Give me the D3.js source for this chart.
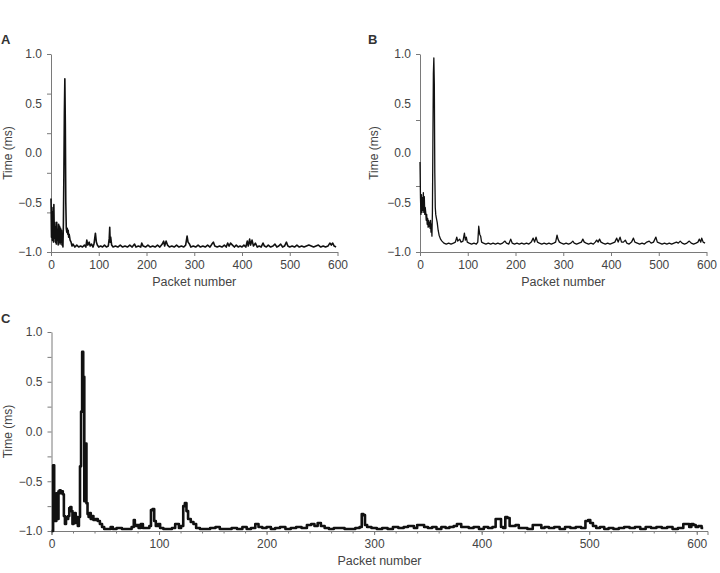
<!DOCTYPE html>
<html>
<head>
<meta charset="utf-8">
<script src="https://cdn.jsdelivr.net/npm/d3@7"></script>
<style>
  body { margin: 0; background: #fff; }
  svg { display: block; font-family: "Liberation Sans", Arial, sans-serif; }
</style>
</head>
<body>
<svg id="chart" width="720" height="573"></svg>
<script>
// [packet number, time (ms)]
const seriesA = [
  [0,-0.46],[1,-0.85],[2,-0.55],[3,-0.88],[4,-0.6],[5,-0.9],[6,-0.52],[7,-0.86],[8,-0.7],[9,-0.9],
  [10,-0.75],[11,-0.92],[12,-0.7],[13,-0.88],[14,-0.8],[15,-0.93],[16,-0.72],[17,-0.9],[18,-0.74],[19,-0.92],
  [20,-0.76],[21,-0.9],[22,-0.78],[23,-0.93],[24,-0.82],[25,-0.95],[26,-0.7],[27,-0.2],[28,0.4],[29,0.75],
  [30,0.3],[31,-0.5],[32,-0.76],[33,-0.8],[34,-0.76],[35,-0.82],[36,-0.78],[37,-0.85],[38,-0.82],[40,-0.88],
  [42,-0.9],[44,-0.94],[46,-0.92],[50,-0.95],[54,-0.93],[58,-0.95],[62,-0.94],[66,-0.95],[70,-0.93],[73,-0.95],
  [75,-0.88],[77,-0.93],[80,-0.9],[82,-0.94],[85,-0.92],[88,-0.95],[90,-0.92],[93,-0.81],[95,-0.9],[97,-0.93],
  [100,-0.95],[104,-0.94],[108,-0.95],[112,-0.93],[116,-0.95],[120,-0.94],[122,-0.86],[123,-0.75],[124,-0.9],[125,-0.85],
  [127,-0.93],[130,-0.95],[135,-0.94],[140,-0.95],[145,-0.93],[150,-0.95],[155,-0.94],[160,-0.95],[165,-0.93],[170,-0.95],
  [175,-0.92],[178,-0.95],[183,-0.94],[188,-0.95],[190,-0.91],[193,-0.94],[198,-0.95],[203,-0.93],[208,-0.95],[213,-0.94],
  [218,-0.95],[223,-0.93],[228,-0.95],[233,-0.92],[236,-0.89],[238,-0.94],[241,-0.89],[244,-0.93],[248,-0.95],[253,-0.94],
  [258,-0.95],[263,-0.93],[268,-0.95],[273,-0.94],[278,-0.95],[282,-0.93],[285,-0.84],[287,-0.9],[290,-0.92],[293,-0.95],
  [298,-0.94],[303,-0.95],[308,-0.93],[313,-0.95],[318,-0.94],[323,-0.95],[328,-0.93],[333,-0.95],[337,-0.92],[340,-0.9],
  [343,-0.94],[348,-0.95],[353,-0.94],[358,-0.95],[363,-0.93],[367,-0.95],[370,-0.91],[373,-0.94],[376,-0.91],[380,-0.93],
  [384,-0.95],[388,-0.93],[392,-0.95],[396,-0.94],[400,-0.95],[404,-0.93],[408,-0.95],[411,-0.89],[413,-0.94],[416,-0.87],
  [418,-0.93],[421,-0.88],[424,-0.94],[428,-0.91],[432,-0.95],[436,-0.94],[440,-0.95],[444,-0.91],[447,-0.94],[451,-0.95],
  [455,-0.93],[460,-0.95],[465,-0.94],[469,-0.92],[473,-0.95],[477,-0.94],[481,-0.92],[485,-0.95],[489,-0.94],[493,-0.9],
  [496,-0.94],[500,-0.95],[505,-0.94],[510,-0.95],[515,-0.93],[520,-0.95],[525,-0.94],[530,-0.95],[535,-0.94],[540,-0.93],
  [545,-0.94],[550,-0.95],[555,-0.94],[560,-0.93],[565,-0.95],[570,-0.94],[575,-0.95],[580,-0.94],[584,-0.91],[587,-0.93],
  [590,-0.91],[593,-0.94],[597,-0.95]
];

const seriesB = [
  [0,-0.09],[1,-0.45],[2,-0.62],[3,-0.42],[4,-0.6],[5,-0.45],[6,-0.58],[7,-0.4],[8,-0.6],[9,-0.44],
  [10,-0.62],[11,-0.55],[12,-0.6],[13,-0.68],[14,-0.62],[15,-0.72],[16,-0.66],[17,-0.75],[18,-0.68],[19,-0.74],
  [20,-0.7],[21,-0.76],[22,-0.68],[23,-0.8],[24,-0.72],[25,-0.84],[26,-0.6],[27,0.1],[28,0.8],[29,0.96],
  [30,0.7],[31,-0.2],[32,-0.55],[33,-0.62],[34,-0.65],[36,-0.7],[38,-0.78],[40,-0.83],[43,-0.87],[46,-0.89],
  [50,-0.91],[55,-0.92],[60,-0.91],[65,-0.92],[70,-0.91],[74,-0.9],[77,-0.85],[79,-0.89],[83,-0.87],[86,-0.9],
  [90,-0.89],[93,-0.81],[95,-0.88],[97,-0.85],[99,-0.9],[103,-0.91],[108,-0.92],[113,-0.91],[118,-0.92],[121,-0.9],
  [123,-0.74],[125,-0.82],[127,-0.84],[129,-0.9],[133,-0.91],[138,-0.92],[143,-0.91],[148,-0.92],[153,-0.91],[158,-0.92],
  [163,-0.91],[168,-0.92],[173,-0.91],[178,-0.89],[181,-0.91],[186,-0.92],[190,-0.87],[193,-0.91],[198,-0.92],[203,-0.91],
  [208,-0.92],[213,-0.91],[218,-0.92],[223,-0.91],[228,-0.92],[233,-0.9],[237,-0.86],[240,-0.9],[243,-0.85],[246,-0.9],
  [250,-0.91],[255,-0.92],[260,-0.91],[265,-0.92],[270,-0.91],[275,-0.92],[280,-0.91],[284,-0.9],[287,-0.83],[289,-0.87],
  [292,-0.9],[296,-0.91],[301,-0.92],[306,-0.91],[311,-0.92],[316,-0.91],[320,-0.89],[323,-0.91],[328,-0.92],[333,-0.91],
  [338,-0.9],[341,-0.87],[344,-0.9],[348,-0.91],[353,-0.92],[358,-0.91],[363,-0.92],[367,-0.9],[370,-0.88],[373,-0.9],
  [376,-0.87],[379,-0.9],[383,-0.91],[388,-0.92],[393,-0.91],[398,-0.92],[403,-0.91],[408,-0.9],[412,-0.86],[415,-0.9],
  [419,-0.85],[422,-0.9],[426,-0.9],[430,-0.88],[433,-0.91],[438,-0.92],[443,-0.9],[447,-0.86],[450,-0.9],[455,-0.91],
  [460,-0.92],[465,-0.91],[470,-0.92],[475,-0.9],[480,-0.89],[484,-0.91],[489,-0.9],[494,-0.85],[497,-0.9],[502,-0.91],
  [507,-0.92],[512,-0.91],[517,-0.92],[522,-0.91],[527,-0.92],[532,-0.91],[537,-0.9],[541,-0.91],[545,-0.89],[549,-0.91],
  [554,-0.92],[559,-0.91],[564,-0.89],[568,-0.91],[573,-0.92],[578,-0.91],[582,-0.9],[585,-0.87],[588,-0.9],[590,-0.86],
  [593,-0.9],[597,-0.91]
];

const seriesC = [
  [0,-1.0],[1,-1.0],[2,-0.34],[3,-0.75],[4,-0.9],[5,-0.62],[6,-0.88],[7,-0.6],[8,-0.59],[9,-0.62],
  [10,-0.6],[11,-0.63],[12,-0.85],[13,-0.93],[14,-0.86],[15,-0.88],[16,-0.85],[17,-0.77],[18,-0.76],[19,-0.8],
  [20,-0.93],[21,-0.84],[22,-0.82],[23,-0.92],[24,-0.86],[25,-0.95],[26,-0.86],[27,-0.35],[28,0.2],[29,0.8],
  [30,0.55],[31,-0.7],[32,-0.12],[33,-0.72],[34,-0.83],[35,-0.86],[36,-0.82],[37,-0.88],[38,-0.85],[40,-0.89],
  [42,-0.88],[44,-0.9],[46,-0.93],[48,-0.96],[50,-0.98],[54,-0.98],[56,-0.96],[58,-0.98],[63,-0.97],[68,-0.98],
  [73,-0.98],[76,-0.96],[77,-0.89],[78,-0.95],[80,-0.94],[82,-0.97],[84,-0.93],[86,-0.97],[90,-0.97],[92,-0.95],
  [93,-0.79],[95,-0.78],[96,-0.9],[98,-0.95],[100,-0.93],[102,-0.97],[106,-0.98],[110,-0.98],[114,-0.97],[116,-0.93],
  [118,-0.93],[119,-0.97],[122,-0.95],[123,-0.75],[125,-0.72],[126,-0.8],[128,-0.88],[131,-0.91],[133,-0.93],[136,-0.97],
  [140,-0.98],[145,-0.98],[150,-0.97],[155,-0.96],[158,-0.98],[165,-0.98],[170,-0.97],[175,-0.98],[180,-0.96],[183,-0.98],
  [188,-0.97],[191,-0.93],[194,-0.96],[198,-0.97],[202,-0.96],[206,-0.98],[210,-0.97],[215,-0.96],[220,-0.98],[225,-0.97],
  [230,-0.96],[235,-0.97],[240,-0.94],[243,-0.93],[246,-0.95],[249,-0.92],[252,-0.95],[256,-0.97],[260,-0.98],[265,-0.97],
  [270,-0.97],[275,-0.98],[280,-0.98],[285,-0.97],[288,-0.96],[289,-0.83],[291,-0.84],[292,-0.94],[295,-0.96],[300,-0.97],
  [305,-0.98],[310,-0.97],[315,-0.98],[320,-0.96],[325,-0.97],[330,-0.96],[333,-0.95],[336,-0.95],[338,-0.97],[342,-0.94],
  [345,-0.94],[348,-0.96],[352,-0.97],[356,-0.96],[360,-0.98],[365,-0.96],[368,-0.97],[372,-0.96],[376,-0.95],[378,-0.93],
  [380,-0.93],[382,-0.96],[386,-0.96],[390,-0.97],[395,-0.96],[400,-0.98],[404,-0.96],[408,-0.97],[412,-0.96],[414,-0.88],
  [417,-0.88],[419,-0.96],[421,-0.97],[423,-0.86],[425,-0.87],[427,-0.95],[430,-0.95],[433,-0.94],[436,-0.97],[440,-0.97],
  [445,-0.98],[450,-0.94],[454,-0.94],[457,-0.97],[460,-0.96],[465,-0.97],[470,-0.96],[475,-0.98],[480,-0.96],[485,-0.97],
  [490,-0.96],[495,-0.97],[498,-0.9],[500,-0.89],[502,-0.92],[505,-0.95],[508,-0.97],[512,-0.96],[516,-0.98],[520,-0.97],
  [525,-0.98],[530,-0.97],[535,-0.96],[540,-0.97],[545,-0.96],[550,-0.98],[555,-0.96],[560,-0.97],[565,-0.96],[570,-0.97],
  [575,-0.96],[580,-0.98],[585,-0.97],[590,-0.93],[592,-0.93],[594,-0.96],[596,-0.93],[598,-0.94],[600,-0.96],[603,-0.95],
  [606,-0.97]
];

const xTicks = [0, 100, 200, 300, 400, 500, 600];
const yLabels = [-1.0, -0.5, 0.0, 0.5, 1.0];
const yMarksA = [-1.0, -0.6, -0.2, 0.2, 0.6, 1.0];
const yMarksB = [-1.0, -1 / 3, 1 / 3, 1.0];
const yMarksC = [-1.0, -0.75, -0.5, -0.25, 0.0, 0.25, 0.5, 0.75, 1.0];
const xMinorC = d3.range(0, 611, 20);

const TEXT_COLOR = "#444";
const AXIS_COLOR = "#7a7a7a";
const FONT_SIZE = "12px";

const svg = d3.select("#chart");
const fmt = v => d3.format(".1f")(v).replace("-", "\u2212");

function drawPanel(p) {
  const x = d3.scaleLinear().domain(p.xDomain).range([p.left, p.right]);
  const y = d3.scaleLinear().domain([-1, 1]).range([p.bottom, p.top]);
  const g = svg.append("g");

  // y tick marks (spacing differs from the labels in the original)
  const yMarks = g.append("g")
    .attr("transform", `translate(${p.left},0)`)
    .call(d3.axisLeft(y).tickValues(p.yMarks).tickSize(4).tickSizeOuter(0).tickFormat(""));
  yMarks.selectAll("line, path").attr("stroke", AXIS_COLOR);

  g.append("g")
    .attr("transform", `translate(${p.left},0)`)
    .call(d3.axisLeft(y).tickValues(yLabels).tickSize(0).tickPadding(9).tickFormat(fmt))
    .call(s => s.select(".domain").remove())
    .selectAll("text")
    .attr("fill", TEXT_COLOR)
    .style("font-size", FONT_SIZE);

  if (p.xMinor) {
    g.append("g")
      .attr("transform", `translate(0,${p.bottom})`)
      .call(d3.axisBottom(x).tickValues(p.xMinor).tickSize(2.5).tickSizeOuter(0).tickFormat(""))
      .call(s => s.select(".domain").remove())
      .selectAll("line").attr("stroke", AXIS_COLOR);
  }

  const xa = g.append("g")
    .attr("transform", `translate(0,${p.bottom})`)
    .call(d3.axisBottom(x).tickValues(xTicks).tickSize(4).tickSizeOuter(p.xMinor ? 4 : 0).tickPadding(4).tickFormat(d3.format("d")));
  xa.selectAll("line, path").attr("stroke", AXIS_COLOR);
  xa.selectAll("text").attr("fill", TEXT_COLOR).style("font-size", FONT_SIZE);

  const line = d3.line()
    .x(d => x(d[0]))
    .y(d => y(d[1]))
    .curve(p.curve || d3.curveLinear);

  g.append("path")
    .datum(p.data)
    .attr("fill", "none")
    .attr("stroke", "#111")
    .attr("stroke-width", p.lineWidth)
    .attr("stroke-linejoin", "round")
    .attr("d", line);

  g.append("text")
    .attr("x", (p.left + p.right) / 2)
    .attr("y", p.bottom + 34)
    .attr("text-anchor", "middle")
    .attr("fill", TEXT_COLOR)
    .style("font-size", "12.5px")
    .text("Packet number");

  g.append("text")
    .attr("transform", `translate(${p.yTitleX},${(p.top + p.bottom) / 2}) rotate(-90)`)
    .attr("text-anchor", "middle")
    .attr("fill", TEXT_COLOR)
    .style("font-size", "12px")
    .text("Time (ms)");

  g.append("text")
    .attr("x", p.labelX)
    .attr("y", p.labelY)
    .attr("fill", "#333")
    .style("font-size", "13px")
    .style("font-weight", "bold")
    .text(p.label);
}

drawPanel({
  label: "A", labelX: 1, labelY: 44, yTitleX: 12,
  data: seriesA, xDomain: [0, 600],
  left: 51, right: 337.5, top: 54, bottom: 252,
  yMarks: yMarksA, lineWidth: 1.6
});

drawPanel({
  label: "B", labelX: 368, labelY: 44, yTitleX: 378,
  data: seriesB, xDomain: [0, 600],
  left: 420, right: 706.5, top: 54, bottom: 252,
  yMarks: yMarksB, lineWidth: 1.3
});

drawPanel({
  label: "C", labelX: 1, labelY: 323, yTitleX: 12,
  data: seriesC, xDomain: [0, 610],
  left: 51.5, right: 707.5, top: 332, bottom: 531,
  yMarks: yMarksC, xMinor: xMinorC, lineWidth: 2.6,
  curve: d3.curveStep
});
</script>
</body>
</html>
